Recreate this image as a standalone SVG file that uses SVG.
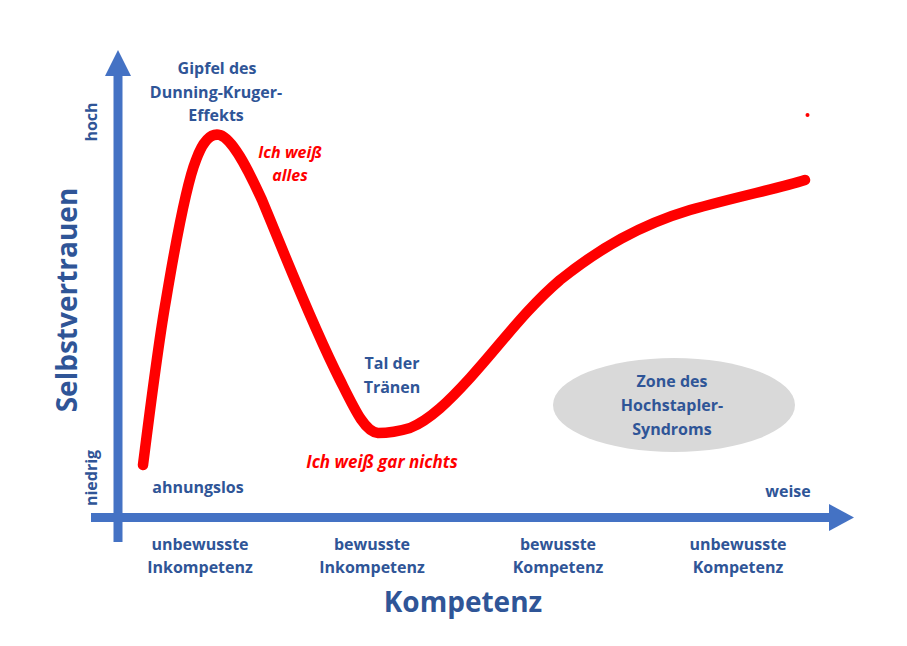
<svg xmlns="http://www.w3.org/2000/svg" width="907" height="646" viewBox="0 0 907 646">
<style>
.t{font-family:"Open Sans",Lato,"Liberation Sans",sans-serif;font-weight:bold;fill:#2F5597;text-anchor:middle}
.s{font-size:16px}
.r{font-family:"Open Sans",Lato,"Liberation Sans",sans-serif;font-weight:bold;font-style:italic;fill:#FF0000;text-anchor:middle;font-size:16px}
.big{font-size:28px}
.ax{fill:#4472C4}
</style>
<rect width="907" height="646" fill="#ffffff"/>
<g id="axes">
<rect class="ax" x="113.5" y="74" width="9" height="468"/>
<polygon class="ax" points="118,50 131,76 105,76"/>
<rect class="ax" x="91" y="513" width="740" height="9"/>
<polygon class="ax" points="854,517.5 829,504 829,531"/>
</g>
<g id="curve">
<path d="M143,465 C150,410 158,345 166,300 C176,240 186,185 196,160 C204,138 212,133 220,135 C232,139 246,165 262,200 C285,255 312,325 340,380 C355,410 365,432 378,433 C390,433 400,431 410,428 C430,420 450,400 470,378 C500,345 525,310 560,280 C600,248 640,225 690,210 C740,196 780,188 805,180" fill="none" stroke="#FF0000" stroke-width="10.5" stroke-linecap="round" stroke-linejoin="round"/>
<circle cx="807.5" cy="115" r="2" fill="#FF0000"/>
</g>
<g id="ylabels">
<text class="t s" transform="translate(97,122) rotate(-90)">hoch</text>
<text class="t s" transform="translate(97,478) rotate(-90)">niedrig</text>
<text class="t big" transform="translate(77,300) rotate(-90)">Selbstvertrauen</text>
</g>
<g id="peak">
<text class="t s" x="217" y="74">Gipfel des</text>
<text class="t s" x="216" y="98">Dunning-Kruger-</text>
<text class="t s" x="216" y="121">Effekts</text>
</g>
<g id="alles">
<text class="r" x="290" y="158">Ich weiß</text>
<text class="r" x="290" y="181">alles</text>
</g>
<g id="tal">
<text class="t s" x="392" y="369">Tal der</text>
<text class="t s" x="392" y="393">Tränen</text>
</g>
<g id="nichts">
<text class="r" x="382" y="468" style="font-size:17px">Ich weiß gar nichts</text>
</g>
<g id="ahnungslos">
<text class="t s" x="198" y="493">ahnungslos</text>
</g>
<g id="zone">
<ellipse cx="674" cy="405" rx="121" ry="47" fill="#D9D9D9"/>
<text class="t s" x="672" y="387">Zone des</text>
<text class="t s" x="672" y="411">Hochstapler-</text>
<text class="t s" x="672" y="435">Syndroms</text>
</g>
<g id="weise">
<text class="t s" x="788" y="497">weise</text>
</g>
<g id="stages">
<text class="t s" x="200" y="550">unbewusste</text>
<text class="t s" x="200" y="573">Inkompetenz</text>
<text class="t s" x="372" y="550">bewusste</text>
<text class="t s" x="372" y="573">Inkompetenz</text>
<text class="t s" x="558" y="550">bewusste</text>
<text class="t s" x="558" y="573">Kompetenz</text>
<text class="t s" x="738" y="550">unbewusste</text>
<text class="t s" x="738" y="573">Kompetenz</text>
</g>
<g id="xlabel">
<text class="t big" x="463" y="612">Kompetenz</text>
</g>
</svg>
